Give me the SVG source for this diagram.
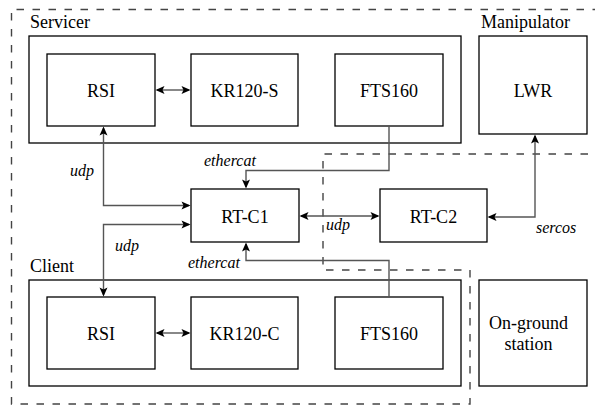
<svg xmlns="http://www.w3.org/2000/svg" width="595" height="407" viewBox="0 0 595 407">
<rect width="595" height="407" fill="#fff"/>
<g id="regions">
<path d="M600 9.5 H11.5 V404 H470 V270 H323 V154 H600" fill="none" stroke="#444" stroke-width="1.4" stroke-dasharray="7.5 8.5"/>
</g>
<g id="servicer">
<rect x="29" y="36" width="432" height="107" fill="none" stroke="#000" stroke-width="1.3"/>
<text x="30" y="28" font-size="18" font-family="Liberation Serif">Servicer</text>
</g>
<g id="client">
<rect x="29" y="280" width="432" height="106" fill="none" stroke="#000" stroke-width="1.3"/>
<text x="30" y="272" font-size="18" font-family="Liberation Serif">Client</text>
</g>
<g id="rsi-s"><rect x="47" y="54" width="108" height="72" fill="#fff" stroke="#000" stroke-width="1.3"/><text x="101" y="96.5" font-size="18" text-anchor="middle" font-family="Liberation Serif">RSI</text></g>
<g id="kr120-s"><rect x="191" y="54" width="107" height="72" fill="#fff" stroke="#000" stroke-width="1.3"/><text x="244.5" y="96.5" font-size="18" text-anchor="middle" font-family="Liberation Serif">KR120-S</text></g>
<g id="fts160-s"><rect x="335" y="54" width="108" height="72" fill="#fff" stroke="#000" stroke-width="1.3"/><text x="389" y="96.5" font-size="18" text-anchor="middle" font-family="Liberation Serif">FTS160</text></g>
<g id="manipulator">
<text x="481" y="28" font-size="18" font-family="Liberation Serif">Manipulator</text>
<rect x="479" y="36" width="108" height="98" fill="#fff" stroke="#000" stroke-width="1.3"/><text x="533" y="96.5" font-size="18" text-anchor="middle" font-family="Liberation Serif">LWR</text>
</g>
<g id="rt-c1"><rect x="191" y="189" width="108" height="53" fill="#fff" stroke="#000" stroke-width="1.3"/><text x="245" y="222.5" font-size="18" text-anchor="middle" font-family="Liberation Serif">RT-C1</text></g>
<g id="rt-c2"><rect x="380" y="189" width="107" height="53" fill="#fff" stroke="#000" stroke-width="1.3"/><text x="433.5" y="222.5" font-size="18" text-anchor="middle" font-family="Liberation Serif">RT-C2</text></g>
<g id="rsi-c"><rect x="47" y="297" width="108" height="72" fill="#fff" stroke="#000" stroke-width="1.3"/><text x="101" y="339.5" font-size="18" text-anchor="middle" font-family="Liberation Serif">RSI</text></g>
<g id="kr120-c"><rect x="191" y="297" width="107" height="72" fill="#fff" stroke="#000" stroke-width="1.3"/><text x="244.5" y="339.5" font-size="18" text-anchor="middle" font-family="Liberation Serif">KR120-C</text></g>
<g id="fts160-c"><rect x="335" y="297" width="108" height="72" fill="#fff" stroke="#000" stroke-width="1.3"/><text x="389" y="339.5" font-size="18" text-anchor="middle" font-family="Liberation Serif">FTS160</text></g>
<g id="on-ground">
<rect x="479" y="280" width="108" height="106" fill="#fff" stroke="#000" stroke-width="1.3"/>
<text x="528.5" y="328.5" font-size="18" text-anchor="middle" font-family="Liberation Serif">On-ground</text>
<text x="528.5" y="350" font-size="18" text-anchor="middle" font-family="Liberation Serif">station</text>
</g>
<g id="connectors">
<g fill="none" stroke="#555" stroke-width="1.4">
<path d="M157 90 H189"/>
<path d="M157 333 H189"/>
<path d="M103.5 128 V205.5 H189"/>
<path d="M189 224.5 H103.5 V295"/>
<path d="M389 126 V170.5 H246 V187"/>
<path d="M389 297 V260.5 H246 V244"/>
<path d="M301 216 H378"/>
<path d="M535 136 V217 H489"/>
</g>
<g fill="#000">
<polygon points="164.5,86 155.5,90 164.5,94 162.5,90"/>
<polygon points="181.5,86 190.5,90 181.5,94 183.5,90"/>
<polygon points="164.5,329 155.5,333 164.5,337 162.5,333"/>
<polygon points="181.5,329 190.5,333 181.5,337 183.5,333"/>
<polygon points="99.5,135.5 103.5,126.5 107.5,135.5 103.5,133.5"/>
<polygon points="181.5,201.5 190.5,205.5 181.5,209.5 183.5,205.5"/>
<polygon points="181.5,220.5 190.5,224.5 181.5,228.5 183.5,224.5"/>
<polygon points="99.5,287.5 103.5,296.5 107.5,287.5 103.5,289.5"/>
<polygon points="242,179.5 246,188.5 250,179.5 246,181.5"/>
<polygon points="242,251.5 246,242.5 250,251.5 246,249.5"/>
<polygon points="308.5,212 299.5,216 308.5,220 306.5,216"/>
<polygon points="370.5,212 379.5,216 370.5,220 372.5,216"/>
<polygon points="531,143.5 535,134.5 539,143.5 535,141.5"/>
<polygon points="496.5,213 487.5,217 496.5,221 494.5,217"/>
</g>
<text x="70" y="176" font-size="16" font-style="italic" font-family="Liberation Serif">udp</text>
<text x="115" y="251" font-size="16" font-style="italic" font-family="Liberation Serif">udp</text>
<text x="326" y="230" font-size="16" font-style="italic" font-family="Liberation Serif">udp</text>
<text x="204" y="166" font-size="16" font-style="italic" font-family="Liberation Serif">ethercat</text>
<text x="188" y="268" font-size="16" font-style="italic" font-family="Liberation Serif">ethercat</text>
<text x="536" y="233" font-size="16" font-style="italic" font-family="Liberation Serif">sercos</text>
</g>
</svg>
